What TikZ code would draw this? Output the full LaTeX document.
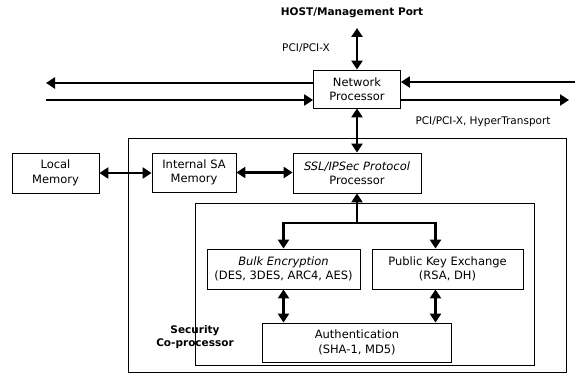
\documentclass[tikz,border=0pt]{standalone}
\usepackage{fontspec}
\setmainfont{DejaVu Sans}
\usetikzlibrary{arrows.meta}

\begin{document}
\begin{tikzpicture}[
  x=1pt,y=-1pt,
  box/.style={draw,line width=0.8pt,inner sep=2pt,align=center,font=\fontsize{11.5}{14.5}\selectfont},
  frame/.style={draw,line width=0.8pt,inner sep=0pt},
  lbl/.style={font=\fontsize{10.5}{13}\selectfont},
  boldlbl/.style={align=center,font=\bfseries\fontsize{10.5}{13}\selectfont},
  bus/.style={line width=2.6pt,-{Triangle[length=9pt,width=11pt]}},
  dbus/.style={line width=2.6pt,{Triangle[length=9pt,width=11pt]}-{Triangle[length=9pt,width=11pt]}}
]
  \useasboundingbox (0,0) rectangle (575,374);

  \node[frame,minimum width=438pt,minimum height=234pt] (copro) at (347,255) {};
  \node[frame,minimum width=339pt,minimum height=162pt] (crypto) at (364.5,284) {};

  \node[boldlbl] (host) at (352,13) {HOST/Management Port};
  \node[box,minimum width=87pt,minimum height=38pt] (np) at (357,89) {Network\\Processor};
  \node[lbl] (pcilbl) at (306,48) {PCI/PCI-X};
  \node[lbl,anchor=west] (htlbl) at (412,122) {PCI/PCI-X, HyperTransport};

  \node[box,minimum width=87pt,minimum height=40pt] (localmem) at (55.5,173) {Local\\Memory};
  \node[box,minimum width=84pt,minimum height=39pt] (samem) at (194,172.5) {Internal SA\\Memory};
  \node[box,minimum width=128pt,minimum height=40pt] (ssl) at (357,173) {\textit{SSL/IPSec Protocol}\\Processor};
  \node[box,minimum width=153pt,minimum height=40pt] (bulk) at (283.5,269) {\textit{Bulk Encryption}\\(DES, 3DES, ARC4, AES)};
  \node[box,minimum width=151pt,minimum height=40pt] (pke) at (447.5,269) {Public Key Exchange\\(RSA, DH)};
  \node[box,minimum width=189pt,minimum height=39pt] (auth) at (357,342.5) {Authentication\\(SHA-1, MD5)};
  \node[boldlbl] (seclbl) at (195,337) {Security\\Co-processor};

  \coordinate (hostport) at (357,28);
  \coordinate (wout) at (46,83);
  \coordinate (win) at (46,100);
  \coordinate (ein) at (575,82);
  \coordinate (eout) at (569,100);
  \coordinate (split) at (357,223);

  \draw[dbus] (hostport) -- (np.north);
  \draw[bus] (np.west |- wout) -- (wout);
  \draw[bus] (win) -- (win -| np.west);
  \draw[bus] (ein) -- (ein -| np.east);
  \draw[bus] (np.east |- eout) -- (eout);
  \draw[dbus] (np.south) -- (ssl.north);
  \draw[dbus] (localmem.east) -- (localmem.east -| samem.west);
  \draw[dbus] (samem.east) -- (samem.east -| ssl.west);
  \draw[bus] (split) -- (ssl.south);
  \draw[bus] (split) -| (bulk.north);
  \draw[bus] (split) -| ([xshift=-12pt]pke.north);
  \draw[dbus] (bulk.south) -- (bulk.south |- auth.north);
  \draw[dbus] ([xshift=-12pt]pke.south) -- ([xshift=-12pt]pke.south |- auth.north);
\end{tikzpicture}
\end{document}
